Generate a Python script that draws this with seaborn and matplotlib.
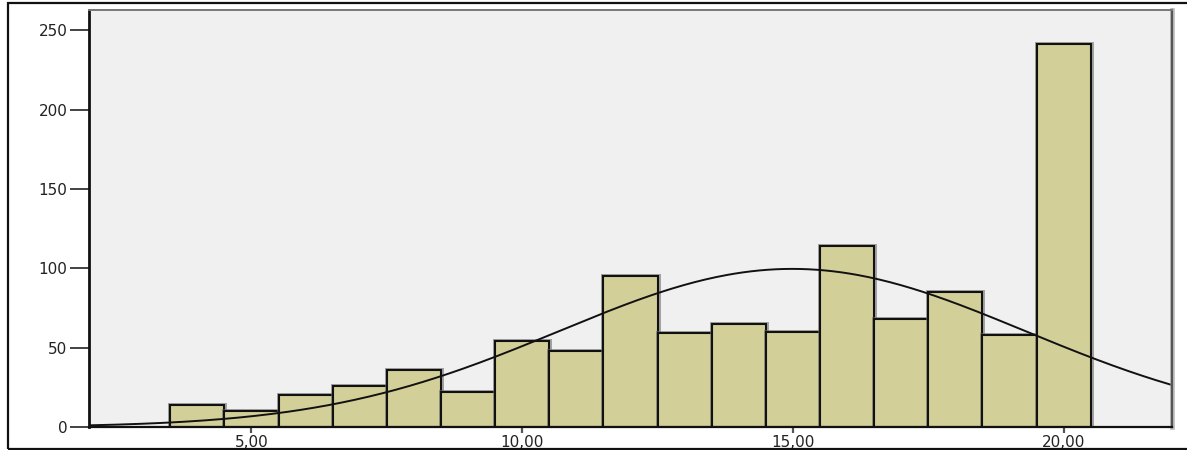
import numpy as np
import matplotlib
matplotlib.use("Agg")
import matplotlib.pyplot as plt
import matplotlib.patheffects as pe
from matplotlib.patches import Rectangle
import seaborn as sns

# Score values (bin centres) and their frequencies
scores = [4, 5, 6, 7, 8, 9, 10, 11, 12, 13, 14, 15, 16, 17, 18, 19, 20]
counts = [14, 10, 20, 26, 36, 22, 54, 48, 95, 59, 65, 60, 114, 68, 85, 58, 241]

x_ticks = [5, 10, 15, 20]
x_tick_labels = ["5,00", "10,00", "15,00", "20,00"]
y_ticks = [0, 50, 100, 150, 200, 250]
y_tick_labels = ["0", "50", "100", "150", "200", "250"]

sns.set_theme(style="ticks")
plt.rcParams["font.family"] = ["DejaVu Sans"]

fig = plt.figure(figsize=(11.87, 4.5), dpi=100)
fig.patch.set_facecolor("white")
ax = fig.add_axes([89 / 1187, 1 - 427 / 450, (1172 - 89) / 1187, (427 - 9.5) / 450])
ax.set_facecolor("#f0f0f0")

# Histogram bars, one per integer score
sns.histplot(
    x=scores, weights=counts, discrete=True, ax=ax,
    color="#d3cf98", alpha=1.0, edgecolor="#111111", linewidth=1.5,
)
for p in ax.patches:
    p.set_path_effects([
        pe.Stroke(linewidth=3.6, foreground="#6e6e6e", alpha=0.6),
        pe.Normal(),
    ])

# Normal curve with the sample mean and standard deviation
vals = np.repeat(np.array(scores, dtype=float), counts)
n = vals.size
mu = vals.mean()
sd = vals.std(ddof=1)
xs = np.linspace(2, 22, 400)
ys = n * 1.0 * np.exp(-0.5 * ((xs - mu) / sd) ** 2) / (sd * np.sqrt(2 * np.pi))
sns.lineplot(x=xs, y=ys, ax=ax, color="#111111", linewidth=1.4)

ax.set_xlim(2, 22)
ax.set_ylim(0, 263)
ax.set_xlabel("")
ax.set_ylabel("")

ax.set_xticks(x_ticks)
ax.set_xticklabels(x_tick_labels)
ax.set_yticks(y_ticks)
ax.set_yticklabels(y_tick_labels)

ax.tick_params(axis="y", direction="out", length=13.5, width=1.2, color="#222222",
               pad=2, labelsize=11, labelcolor="#222222")
ax.tick_params(axis="x", direction="out", length=4.5, width=1.6, color="#555555",
               pad=1, labelsize=11, labelcolor="#222222")

ax.spines["left"].set_color("#111111")
ax.spines["left"].set_linewidth(2.0)
ax.spines["bottom"].set_color("#111111")
ax.spines["bottom"].set_linewidth(1.6)
ax.spines["top"].set_color("#777777")
ax.spines["top"].set_linewidth(1.4)
ax.spines["right"].set_color("#555555")
ax.spines["right"].set_linewidth(1.6)
ax.spines["right"].set_path_effects([
    pe.Stroke(linewidth=3.5, foreground="#9a9a9a", alpha=0.6), pe.Normal()])

# Outer frame around the chart
frame = Rectangle((8 / 1187, 1 - 449 / 450), 1.0, (449 - 3) / 450,
                  transform=fig.transFigure, fill=False, edgecolor="#111111",
                  linewidth=1.6, clip_on=False)
fig.add_artist(frame)

fig.savefig("out.png", dpi=100, facecolor="white")
